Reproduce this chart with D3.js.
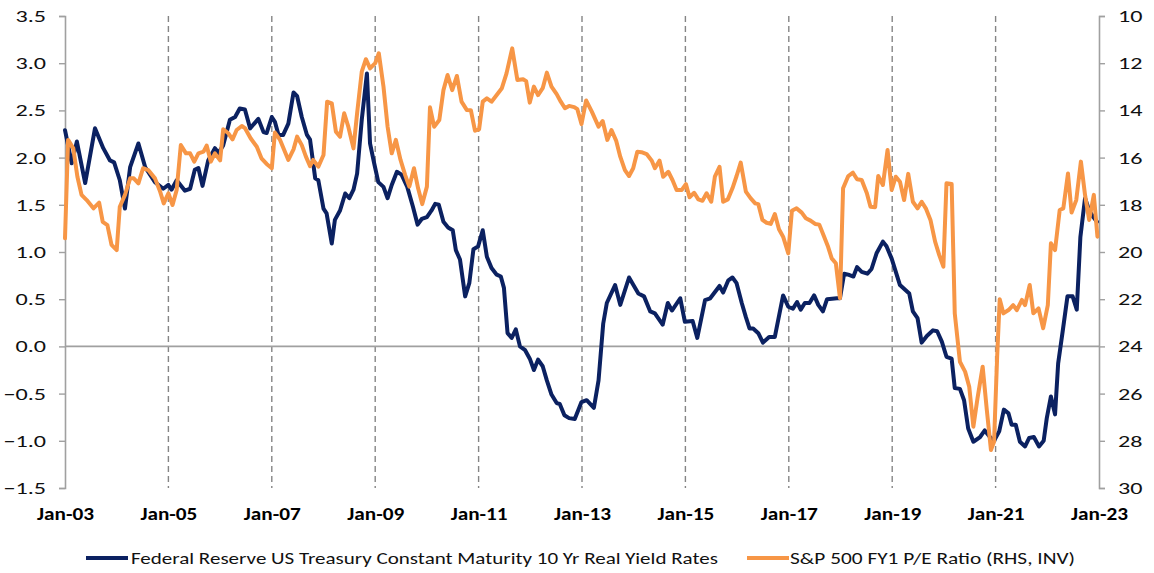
<!DOCTYPE html>
<html>
<head>
<meta charset="utf-8">
<script src="https://cdn.jsdelivr.net/npm/d3@7"></script>
<style>
  html, body { margin: 0; padding: 0; background: #ffffff; }
  svg { display: block; }
  text { font-family: Carlito, "Open Sans", "Liberation Sans", sans-serif; }
</style>
</head>
<body>
<svg id="chart" width="1154" height="573"></svg>
<script>
// ---------------- DATA ----------------
const xTickYears = [2003, 2005, 2007, 2009, 2011, 2013, 2015, 2017, 2019, 2021, 2023];
const leftTicks = [-1.5, -1.0, -0.5, 0.0, 0.5, 1.0, 1.5, 2.0, 2.5, 3.0, 3.5];
const rightTicks = [10, 12, 14, 16, 18, 20, 22, 24, 26, 28, 30];

const seriesNames = [
  "Federal Reserve US Treasury Constant Maturity 10 Yr Real Yield Rates",
  "S&P 500 FY1 P/E Ratio (RHS, INV)"
];

// Real yield (LHS) — time in decimal years
const realYieldDates = [
  2003.00,2003.13,2003.23,2003.39,2003.58,2003.74,2003.87,2003.95,2004.06,2004.16,
  2004.26,2004.42,2004.55,2004.74,2004.90,2005.00,2005.06,2005.16,2005.32,2005.42,
  2005.51,2005.58,2005.66,2005.77,2005.90,2005.97,2006.06,2006.19,2006.29,2006.38,
  2006.48,2006.58,2006.74,2006.84,2006.90,2007.00,2007.06,2007.13,2007.22,2007.32,
  2007.42,2007.49,2007.58,2007.68,2007.74,2007.84,2007.90,2008.00,2008.06,2008.16,
  2008.22,2008.32,2008.42,2008.50,2008.58,2008.65,2008.74,2008.84,2008.90,2008.98,
  2009.06,2009.16,2009.24,2009.32,2009.42,2009.51,2009.62,2009.73,2009.82,2009.90,
  2010.00,2010.09,2010.16,2010.23,2010.32,2010.41,2010.50,2010.56,2010.64,2010.74,
  2010.82,2010.90,2010.99,2011.08,2011.16,2011.25,2011.35,2011.43,2011.49,2011.56,
  2011.64,2011.72,2011.80,2011.90,2011.99,2012.07,2012.15,2012.24,2012.32,2012.41,
  2012.51,2012.57,2012.66,2012.75,2012.86,2012.99,2013.09,2013.23,2013.32,2013.41,
  2013.48,2013.64,2013.74,2013.91,2014.09,2014.20,2014.32,2014.41,2014.56,2014.66,
  2014.74,2014.90,2014.99,2015.14,2015.23,2015.38,2015.48,2015.66,2015.73,2015.83,
  2015.91,2015.99,2016.09,2016.17,2016.24,2016.31,2016.41,2016.50,2016.62,2016.73,
  2016.89,2016.99,2017.08,2017.16,2017.23,2017.31,2017.40,2017.49,2017.57,2017.66,
  2017.74,2017.93,2017.99,2018.07,2018.15,2018.25,2018.32,2018.41,2018.52,2018.60,
  2018.70,2018.82,2018.89,2018.99,2019.07,2019.15,2019.25,2019.33,2019.40,2019.49,
  2019.57,2019.67,2019.79,2019.87,2019.96,2020.05,2020.15,2020.21,2020.31,2020.39,
  2020.47,2020.57,2020.70,2020.79,2020.89,2020.97,2021.07,2021.16,2021.25,2021.31,
  2021.39,2021.47,2021.57,2021.65,2021.74,2021.84,2021.93,2021.99,2022.07,2022.15,
  2022.21,2022.30,2022.39,2022.49,2022.57,2022.64,2022.73,2022.81,2022.89,2022.96
];
const realYieldValues = [
  2.29,1.94,2.17,1.73,2.31,2.10,1.97,1.95,1.76,1.46,
  1.90,2.15,1.90,1.74,1.67,1.71,1.66,1.76,1.65,1.67,
  1.87,1.89,1.70,1.97,2.10,2.05,2.13,2.40,2.43,2.52,
  2.51,2.31,2.41,2.27,2.26,2.43,2.38,2.24,2.24,2.36,
  2.69,2.65,2.43,2.24,2.19,1.78,1.76,1.46,1.41,1.09,
  1.34,1.44,1.62,1.57,1.66,1.83,2.40,2.89,2.15,1.94,
  1.74,1.69,1.57,1.71,1.85,1.82,1.69,1.48,1.29,1.35,
  1.37,1.44,1.51,1.50,1.32,1.26,1.23,1.02,0.92,0.53,
  0.67,1.03,1.06,1.23,0.95,0.83,0.76,0.74,0.62,0.14,
  0.09,0.18,0.00,-0.04,-0.13,-0.25,-0.14,-0.21,-0.36,-0.51,
  -0.60,-0.61,-0.73,-0.76,-0.77,-0.59,-0.57,-0.65,-0.36,0.24,
  0.46,0.65,0.44,0.73,0.56,0.53,0.37,0.35,0.23,0.46,
  0.38,0.51,0.26,0.27,0.09,0.49,0.51,0.64,0.57,0.70,
  0.73,0.67,0.46,0.31,0.19,0.19,0.14,0.04,0.10,0.10,
  0.54,0.42,0.40,0.47,0.39,0.46,0.46,0.54,0.44,0.37,
  0.50,0.51,0.51,0.77,0.76,0.74,0.84,0.79,0.77,0.82,
  0.99,1.11,1.06,0.93,0.79,0.65,0.60,0.56,0.37,0.30,
  0.04,0.11,0.17,0.16,0.05,-0.11,-0.13,-0.44,-0.45,-0.57,
  -0.87,-1.01,-0.96,-0.89,-0.96,-1.00,-0.90,-0.67,-0.71,-0.83,
  -0.83,-1.01,-1.06,-0.97,-0.96,-1.06,-1.00,-0.76,-0.53,-0.72,
  -0.18,0.17,0.53,0.53,0.39,1.16,1.57,1.44,1.37,1.32
];

// S&P 500 forward P/E (RHS, inverted) — time in decimal years
const peDates = [
  2003.00,2003.06,2003.16,2003.24,2003.32,2003.42,2003.55,2003.66,2003.73,2003.82,
  2003.90,2004.00,2004.06,2004.16,2004.26,2004.33,2004.42,2004.51,2004.61,2004.74,
  2004.84,2004.91,2005.00,2005.08,2005.16,2005.24,2005.34,2005.42,2005.50,2005.58,
  2005.68,2005.74,2005.82,2005.90,2006.00,2006.06,2006.16,2006.24,2006.32,2006.42,
  2006.48,2006.59,2006.71,2006.80,2006.90,2007.00,2007.06,2007.16,2007.32,2007.42,
  2007.49,2007.58,2007.66,2007.74,2007.80,2007.90,2008.00,2008.07,2008.16,2008.24,
  2008.32,2008.40,2008.48,2008.58,2008.65,2008.74,2008.82,2008.90,2009.00,2009.07,
  2009.16,2009.24,2009.32,2009.40,2009.49,2009.58,2009.66,2009.75,2009.83,2009.91,
  2010.00,2010.06,2010.14,2010.24,2010.32,2010.40,2010.49,2010.58,2010.67,2010.77,
  2010.85,2010.93,2011.01,2011.08,2011.16,2011.25,2011.35,2011.45,2011.54,2011.65,
  2011.75,2011.86,2011.92,2011.99,2012.07,2012.15,2012.24,2012.32,2012.41,2012.51,
  2012.59,2012.67,2012.75,2012.85,2012.91,2012.99,2013.08,2013.19,2013.32,2013.40,
  2013.49,2013.57,2013.66,2013.74,2013.83,2013.91,2013.99,2014.07,2014.15,2014.25,
  2014.35,2014.41,2014.50,2014.57,2014.67,2014.75,2014.83,2014.93,2015.01,2015.08,
  2015.17,2015.25,2015.33,2015.41,2015.50,2015.57,2015.66,2015.73,2015.82,2015.91,
  2015.99,2016.07,2016.17,2016.26,2016.35,2016.41,2016.49,2016.57,2016.65,2016.73,
  2016.81,2016.89,2016.99,2017.06,2017.15,2017.25,2017.33,2017.42,2017.51,2017.59,
  2017.67,2017.76,2017.83,2017.91,2017.99,2018.05,2018.15,2018.24,2018.32,2018.41,
  2018.51,2018.58,2018.67,2018.73,2018.82,2018.91,2018.99,2019.07,2019.15,2019.23,
  2019.31,2019.40,2019.49,2019.57,2019.65,2019.74,2019.83,2019.91,2019.99,2020.05,
  2020.15,2020.21,2020.31,2020.41,2020.49,2020.57,2020.65,2020.75,2020.83,2020.91,
  2020.97,2021.03,2021.08,2021.15,2021.25,2021.34,2021.41,2021.51,2021.57,2021.66,
  2021.73,2021.83,2021.92,2022.01,2022.07,2022.15,2022.24,2022.31,2022.40,2022.47,
  2022.56,2022.65,2022.73,2022.81,2022.90,2022.97
];
const peValues = [
  19.42,15.25,15.61,16.81,17.58,17.80,18.15,17.91,18.72,18.86,
  19.70,19.92,18.08,17.58,16.88,16.88,17.09,16.45,16.53,16.88,
  17.44,17.94,17.51,18.01,17.37,15.47,15.82,15.82,16.17,15.82,
  15.75,15.49,16.17,15.82,16.12,14.80,14.97,15.23,14.83,14.66,
  14.75,15.18,15.54,16.03,16.27,16.45,14.94,15.25,16.10,15.65,
  15.11,15.47,15.96,16.36,16.10,16.38,15.89,13.63,13.70,14.90,
  15.11,14.12,14.69,15.61,14.12,12.36,11.83,12.22,12.00,11.58,
  12.99,14.69,15.82,15.25,16.10,16.74,17.23,16.45,17.30,17.97,
  17.23,13.87,14.69,14.41,13.14,12.50,13.14,12.54,13.63,13.98,
  13.99,14.86,14.80,13.63,13.49,13.63,13.35,13.06,12.43,11.37,
  12.71,12.68,12.76,13.67,12.99,13.35,13.06,12.40,12.99,13.31,
  13.63,13.91,13.81,13.86,13.95,14.58,13.58,14.05,14.69,14.45,
  15.25,14.83,15.28,15.96,16.53,16.78,16.45,15.75,15.77,15.85,
  16.13,16.45,16.13,16.81,16.60,16.95,17.37,17.37,17.12,17.68,
  17.49,17.77,17.83,17.51,17.87,16.81,16.39,17.87,17.77,17.30,
  16.78,16.21,17.44,17.72,17.94,17.97,18.64,18.76,18.81,18.39,
  19.04,19.35,20.06,18.25,18.15,18.33,18.57,18.67,18.81,18.84,
  19.28,19.78,20.27,20.48,21.96,17.30,16.78,16.64,16.92,16.95,
  17.51,18.08,18.10,16.78,17.16,15.68,17.37,16.81,17.02,17.80,
  16.69,17.87,18.15,17.87,18.15,18.64,19.56,20.13,20.62,17.09,
  17.12,22.60,24.65,25.07,25.71,27.40,26.20,24.86,26.69,28.39,
  28.04,24.44,22.00,22.60,22.46,22.25,22.46,22.03,22.25,21.40,
  22.60,22.39,23.23,22.25,19.63,19.92,18.22,18.15,16.67,18.33,
  17.80,16.17,17.58,18.64,17.58,19.35
];

// ---------------- CHART ----------------
const colors = { yield: "#0b2161", pe: "#f79646", axis: "#a0a0a0", grid: "#858585", text: "#111111" };
const m = { left: 65, right: 1099, top: 16, bottom: 488 };
const fontStack = 'Carlito, "Open Sans", "Liberation Sans", sans-serif';

const svg = d3.select("#chart");

const x = d3.scaleLinear().domain([2003, 2023]).range([m.left, m.right]);
const yL = d3.scaleLinear().domain([-1.5, 3.5]).range([m.bottom, m.top]);
const yR = d3.scaleLinear().domain([30, 10]).range([m.bottom, m.top]); // inverted

// the reference renders its labels horizontally widened; mimic with textLength
function widen(sel, factor) {
  sel.each(function () {
    const w = this.getComputedTextLength();
    d3.select(this).attr("textLength", w * factor).attr("lengthAdjust", "spacingAndGlyphs");
  });
}

// dashed vertical grid lines
svg.append("g").selectAll("line")
  .data(xTickYears.slice(1, -1))
  .join("line")
  .attr("x1", d => x(d)).attr("x2", d => x(d))
  .attr("y1", m.top).attr("y2", m.bottom)
  .attr("stroke", colors.grid).attr("stroke-width", 1.4)
  .attr("stroke-dasharray", "6,4");

// zero line
svg.append("line")
  .attr("x1", m.left).attr("x2", m.right)
  .attr("y1", yL(0)).attr("y2", yL(0))
  .attr("stroke", colors.axis).attr("stroke-width", 1.6);

// left axis
const gL = svg.append("g").attr("transform", `translate(${m.left},0)`)
  .call(d3.axisLeft(yL).tickValues(leftTicks).tickFormat(d3.format(".1f")).tickSizeOuter(0).tickSize(6).tickPadding(13));
// right axis
const gR = svg.append("g").attr("transform", `translate(${m.right},0)`)
  .call(d3.axisRight(yR).tickValues(rightTicks).tickFormat(d3.format("d")).tickSizeOuter(0).tickSize(6).tickPadding(13));

[gL, gR].forEach(g => {
  g.select(".domain").attr("stroke", colors.axis).attr("stroke-width", 1.6);
  g.selectAll(".tick line").attr("stroke", colors.axis).attr("stroke-width", 1.4);
  g.selectAll(".tick text").attr("fill", colors.text).style("font-size", "17px")
    .style("font-family", fontStack);
  widen(g.selectAll(".tick text"), 1.42);
});

// bottom axis labels (no axis line)
const gB = svg.append("g").attr("transform", `translate(0,${m.bottom})`)
  .call(d3.axisBottom(x).tickValues(xTickYears)
    .tickFormat(d => "Jan-" + String(d % 100).padStart(2, "0"))
    .tickSize(0).tickPadding(19));
gB.select(".domain").remove();
gB.selectAll(".tick text").attr("fill", "#000").style("font-size", "18px").style("font-weight", "bold")
  .style("font-family", fontStack);
widen(gB.selectAll(".tick text"), 1.18);

// lines
const yieldData = realYieldDates.map((d, i) => [d, realYieldValues[i]]);
const peData = peDates.map((d, i) => [d, peValues[i]]);

svg.append("path").datum(yieldData)
  .attr("fill", "none").attr("stroke", colors.yield).attr("stroke-width", 4)
  .attr("stroke-linejoin", "round").attr("stroke-linecap", "round")
  .attr("d", d3.line().x(d => x(d[0])).y(d => yL(d[1])));

svg.append("path").datum(peData)
  .attr("fill", "none").attr("stroke", colors.pe).attr("stroke-width", 4)
  .attr("stroke-linejoin", "round").attr("stroke-linecap", "round")
  .attr("d", d3.line().x(d => x(d[0])).y(d => yR(d[1])));

// legend
const legendItems = [
  { name: seriesNames[0], color: colors.yield, lx: 86, tx: 131, tw: 587 },
  { name: seriesNames[1], color: colors.pe, lx: 747, tx: 790, tw: 285 }
];
const lg = svg.append("g");
legendItems.forEach(it => {
  lg.append("line").attr("x1", it.lx).attr("x2", it.lx + 42).attr("y1", 558).attr("y2", 558)
    .attr("stroke", it.color).attr("stroke-width", 4);
  lg.append("text").attr("x", it.tx).attr("y", 564).attr("fill", colors.text)
    .style("font-size", "17px").style("font-family", fontStack)
    .attr("textLength", it.tw).attr("lengthAdjust", "spacingAndGlyphs")
    .text(it.name);
});
</script>
</body>
</html>
